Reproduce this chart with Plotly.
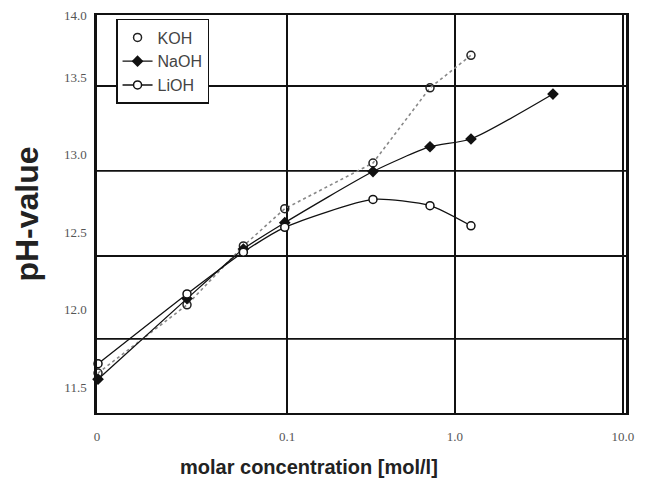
import plotly.graph_objects as go

# ---- data ----
conc = [0.0075, 0.0254, 0.055, 0.097, 0.325, 0.71, 1.245, 3.83]
koh_ph = [11.59, 12.03, 12.41, 12.65, 12.945, 13.43, 13.64]
naoh_ph = [11.55, 12.07, 12.39, 12.56, 12.89, 13.05, 13.10, 13.39]
lioh_ph = [11.65, 12.10, 12.37, 12.53, 12.71, 12.67, 12.54]

x_tickvals = [0.0074, 0.1, 1.0, 10.0]
x_ticktext = ["0", "0.1", "1.0", "10.0"]
y_tickvals = [11.5, 12.0, 12.5, 13.0, 13.5, 13.895]
y_ticktext = ["11.5", "12.0", "12.5", "13.0", "13.5", "14.0"]
grid_y = [11.81, 12.345, 12.894, 13.442]

fig = go.Figure()

# KOH dotted connecting line (not in legend)
fig.add_trace(go.Scatter(
    x=conc[:len(koh_ph)], y=koh_ph, mode="lines",
    line=dict(color="#888", width=1.6, dash="dot"),
    showlegend=False, hoverinfo="skip", cliponaxis=False))
fig.add_trace(go.Scatter(
    x=conc[:len(koh_ph)], y=koh_ph, mode="markers", name="KOH",
    marker=dict(symbol="circle-open", size=8, color="#222", line=dict(width=1.5)),
    legendgroup="a", cliponaxis=False))
fig.add_trace(go.Scatter(
    x=conc, y=naoh_ph, mode="lines+markers", name="NaOH",
    line=dict(color="#111", width=1.3, shape="spline", smoothing=0.6),
    marker=dict(symbol="diamond", size=9, color="#111"),
    legendgroup="b", cliponaxis=False))
fig.add_trace(go.Scatter(
    x=conc[:len(lioh_ph)], y=lioh_ph, mode="lines+markers", name="LiOH",
    line=dict(color="#111", width=1.3, shape="spline", smoothing=0.6),
    marker=dict(symbol="circle", size=8, color="white", line=dict(color="#111", width=1.5)),
    legendgroup="c", cliponaxis=False))

shapes = [dict(type="line", xref="paper", x0=0, x1=1, yref="y", y0=g, y1=g,
               line=dict(color="#111", width=1.8), layer="below") for g in grid_y]

fig.update_layout(
    width=664, height=491,
    margin=dict(l=89, r=46, t=7, b=86),
    paper_bgcolor="white", plot_bgcolor="white",
    shapes=shapes,
    showlegend=True,
    legend=dict(x=0.036, y=0.99, xanchor="left", yanchor="top",
                bordercolor="#111", borderwidth=1.5, bgcolor="white",
                font=dict(family="Liberation Sans, Arial", size=16, color="#444"),
                tracegroupgap=2, traceorder="normal"),
    xaxis=dict(type="log", range=[-2.131, 1.018], automargin=False,
               tickvals=x_tickvals, ticktext=x_ticktext,
               showgrid=True, gridcolor="#111", gridwidth=1.8,
               showline=True, linecolor="#111", linewidth=2, mirror=True,
               ticks="", ticklabelstandoff=10,
               tickfont=dict(family="Liberation Serif", size=13, color="#555"),
               zeroline=False),
    yaxis=dict(range=[11.332, 13.90], automargin=False,
               tickvals=y_tickvals, ticktext=y_ticktext,
               showgrid=False,
               showline=True, linecolor="#111", linewidth=2.5, mirror=True,
               ticks="", ticklabelstandoff=5,
               tickfont=dict(family="Liberation Serif", size=13, color="#555"),
               title=dict(text="pH-value", standoff=16,
                          font=dict(family="Liberation Sans, Arial", size=32, color="#222", weight="bold")),
               zeroline=False),
    annotations=[dict(text="molar concentration [mol/l]", xref="paper", yref="paper",
                      x=(309 - 97) / 529, y=-0.135, xanchor="center", yanchor="middle",
                      showarrow=False,
                      font=dict(family="Liberation Sans, Arial", size=20, color="#222", weight="bold"))],
)

fig.write_html("out.html")
